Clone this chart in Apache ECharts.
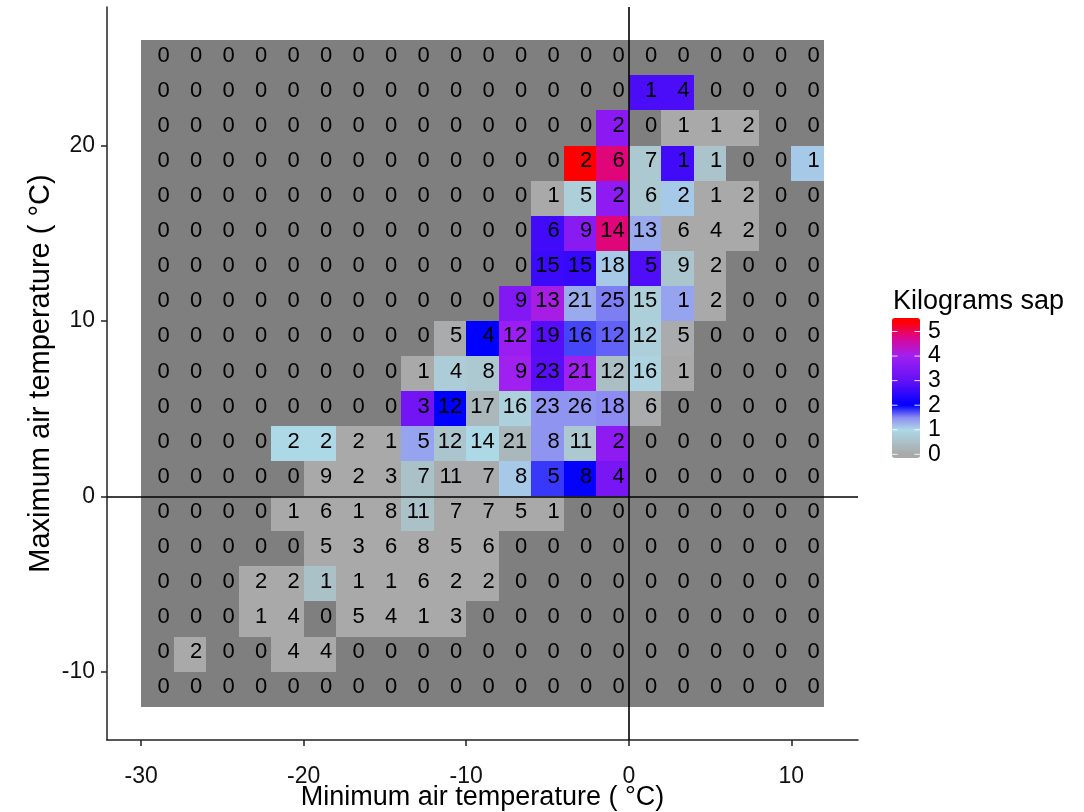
<!DOCTYPE html>
<html>
<head>
<meta charset="utf-8">
<script src="https://cdn.jsdelivr.net/npm/echarts@6/dist/echarts.min.js"></script>
<style>html,body{margin:0;padding:0;background:#fff}#chart{width:1084px;height:812px}</style>
</head>
<body>
<div id="chart"></div>
<script>
// ---- data ----
const xCenters = [-29,-27,-25,-23,-21,-19,-17,-15,-13,-11,-9,-7,-5,-3,-1,1,3,5,7,9,11];
const yCenters = [25,23,21,19,17,15,13,11,9,7,5,3,1,-1,-3,-5,-7,-9,-11];
const xTicks = [-30,-20,-10,0,10];
const yTicks = [-10,0,10,20];
const legendTicks = [0,1,2,3,4,5];
const xTitle = 'Minimum air temperature ( °C)';
const yTitle = 'Maximum air temperature ( °C)';
const legendTitle = 'Kilograms sap';

// number of observations per cell (rows top -> bottom, columns left -> right)
const countRows = [
  [0,0,0,0,0,0,0,0,0,0,0,0,0,0,0,0,0,0,0,0,0],
  [0,0,0,0,0,0,0,0,0,0,0,0,0,0,0,1,4,0,0,0,0],
  [0,0,0,0,0,0,0,0,0,0,0,0,0,0,2,0,1,1,2,0,0],
  [0,0,0,0,0,0,0,0,0,0,0,0,0,2,6,7,1,1,0,0,1],
  [0,0,0,0,0,0,0,0,0,0,0,0,1,5,2,6,2,1,2,0,0],
  [0,0,0,0,0,0,0,0,0,0,0,0,6,9,14,13,6,4,2,0,0],
  [0,0,0,0,0,0,0,0,0,0,0,0,15,15,18,5,9,2,0,0,0],
  [0,0,0,0,0,0,0,0,0,0,0,9,13,21,25,15,1,2,0,0,0],
  [0,0,0,0,0,0,0,0,0,5,4,12,19,16,12,12,5,0,0,0,0],
  [0,0,0,0,0,0,0,0,1,4,8,9,23,21,12,16,1,0,0,0,0],
  [0,0,0,0,0,0,0,0,3,12,17,16,23,26,18,6,0,0,0,0,0],
  [0,0,0,0,2,2,2,1,5,12,14,21,8,11,2,0,0,0,0,0,0],
  [0,0,0,0,0,9,2,3,7,11,7,8,5,8,4,0,0,0,0,0,0],
  [0,0,0,0,1,6,1,8,11,7,7,5,1,0,0,0,0,0,0,0,0],
  [0,0,0,0,0,5,3,6,8,5,6,0,0,0,0,0,0,0,0,0,0],
  [0,0,0,2,2,1,1,1,6,2,2,0,0,0,0,0,0,0,0,0,0],
  [0,0,0,1,4,0,5,4,1,3,0,0,0,0,0,0,0,0,0,0,0],
  [0,2,0,0,4,4,0,0,0,0,0,0,0,0,0,0,0,0,0,0,0],
  [0,0,0,0,0,0,0,0,0,0,0,0,0,0,0,0,0,0,0,0,0]
];

const _ = null;
// mean kilograms of sap per cell (null where there were no observations)
const sapRows = [
  [_,_,_,_,_,_,_,_,_,_,_,_,_,_,_,_,_,_,_,_,_],
  [_,_,_,_,_,_,_,_,_,_,_,_,_,_,_,2.75,2.75,_,_,_,_],
  [_,_,_,_,_,_,_,_,_,_,_,_,_,_,3.65,_,0,0,0,_,_],
  [_,_,_,_,_,_,_,_,_,_,_,_,_,5.4,4.85,0.65,2.65,0.55,_,_,1.1],
  [_,_,_,_,_,_,_,_,_,_,_,_,0,0.8,3.7,0.65,1.1,0,0,_,_],
  [_,_,_,_,_,_,_,_,_,_,_,_,2.65,3.6,4.85,1.3,0,0,0,_,_],
  [_,_,_,_,_,_,_,_,_,_,_,_,2.6,2.55,1.1,2.8,0.6,0,_,_,_],
  [_,_,_,_,_,_,_,_,_,_,_,3.5,4.1,1.3,1.55,0.8,1.35,0,_,_,_],
  [_,_,_,_,_,_,_,_,_,0.05,2.0,3.9,2.85,1.75,1.65,0.8,0.05,_,_,_,_],
  [_,_,_,_,_,_,_,_,0,0.75,0.65,4.0,2.9,4.0,0.45,0.9,0,_,_,_,_],
  [_,_,_,_,_,_,_,_,3.25,2.0,0.3,0.85,1.45,1.45,1.5,0.05,_,_,_,_,_],
  [_,_,_,_,1.0,1.0,0,0,1.35,0.6,1.0,0.3,1.45,0.65,3.7,_,_,_,_,_,_],
  [_,_,_,_,_,0,0,0,0.5,0.05,0.05,1.1,1.8,2.05,3.35,_,_,_,_,_,_],
  [_,_,_,_,0,0,0,0,0.5,0,0,0,0,_,_,_,_,_,_,_,_],
  [_,_,_,_,_,0,0,0,0,0,0,_,_,_,_,_,_,_,_,_,_],
  [_,_,_,0,0,0.5,0,0,0,0,0,_,_,_,_,_,_,_,_,_,_],
  [_,_,_,0,0,_,0,0,0,0,_,_,_,_,_,_,_,_,_,_,_],
  [_,0,_,_,0,0,_,_,_,_,_,_,_,_,_,_,_,_,_,_,_],
  [_,_,_,_,_,_,_,_,_,_,_,_,_,_,_,_,_,_,_,_,_]
];

// ---- styles ----
const FONT = "'Liberation Sans', Arial, sans-serif";
const colorStops = [[0,'#a9a9a9'],[1,'#add8e6'],[1.5,'#8c8cf2'],[2,'#0000ff'],[3,'#6410f6'],[4,'#a020f0'],[4.7,'#d8089a'],[5.4,'#ff0000']];
const EMPTY_FILL = '#7f7f7f';
const LABEL_FS = 22;
const VM_MIN = -0.15, VM_MAX = 5.55;
const LEG = { left: 892, top: 318, w: 28, h: 140 };

function hexToRgb(h){ return [parseInt(h.slice(1,3),16),parseInt(h.slice(3,5),16),parseInt(h.slice(5,7),16)]; }
function colorAt(v){
  if (v <= colorStops[0][0]) return colorStops[0][1];
  for (let i = 1; i < colorStops.length; i++){
    if (v <= colorStops[i][0]){
      const [v0,c0] = colorStops[i-1], [v1,c1] = colorStops[i];
      const t = (v - v0) / (v1 - v0);
      const a = hexToRgb(c0), b = hexToRgb(c1);
      const c = a.map((x,k) => Math.round(x + (b[k]-x)*t));
      return 'rgb(' + c.join(',') + ')';
    }
  }
  return colorStops[colorStops.length-1][1];
}
const gradient = [];
for (let i = 0; i <= 114; i++) gradient.push(colorAt(VM_MIN + (VM_MAX - VM_MIN) * i / 114));

// ---- build cells ----
const emptyCells = [], sapCells = [];
yCenters.forEach((y, r) => xCenters.forEach((x, c) => {
  const n = countRows[r][c];
  if (n === 0) emptyCells.push([x, y, n]);
  else sapCells.push([x, y, n, sapRows[r][c]]);
}));

function makeRender(fixedFill){
  return function(params, api){
    const x = api.value(0), y = api.value(1), n = api.value(2);
    const p0 = api.coord([x - 1, y + 1]);
    const p1 = api.coord([x + 1, y - 1]);
    const c = api.coord([x, y]);
    const x0 = Math.round(p0[0]), y0 = Math.round(p0[1]);
    const x1 = Math.round(p1[0]), y1 = Math.round(p1[1]);
    const fill = fixedFill || api.visual('color');
    return {
      type: 'group',
      children: [
        { type: 'rect', z2: 0,
          shape: { x: x0, y: y0, width: x1 - x0, height: y1 - y0 },
          style: { fill: fill } },
        { type: 'text', z2: 10, x: c[0] + LABEL_FS * 0.556, y: c[1] - 2,
          style: { text: String(n), align: 'right', verticalAlign: 'middle', fill: '#000',
                   fontSize: LABEL_FS, fontFamily: FONT } }
      ]
    };
  };
}

function legendY(v){ return LEG.top + (VM_MAX - v) / (VM_MAX - VM_MIN) * LEG.h; }
const legendGraphics = [
  { type: 'text', x: 893, y: 302, style: { text: legendTitle, fontSize: 27, fontFamily: FONT, fill: '#000', verticalAlign: 'middle' } }
];
legendTicks.forEach(v => {
  const y = legendY(v);
  legendGraphics.push({ type: 'text', x: 928, y: y, style: { text: String(v), fontSize: 23, fontFamily: FONT, fill: '#000', verticalAlign: 'middle' } });
  legendGraphics.push({ type: 'line', z: 100, shape: { x1: LEG.left, y1: y, x2: LEG.left + 5.6, y2: y }, style: { stroke: 'rgba(255,255,255,0.85)', lineWidth: 1 } });
  legendGraphics.push({ type: 'line', z: 100, shape: { x1: LEG.left + LEG.w - 5.6, y1: y, x2: LEG.left + LEG.w, y2: y }, style: { stroke: 'rgba(255,255,255,0.85)', lineWidth: 1 } });
});

const axisCommon = {
  type: 'value',
  splitLine: { show: false },
  axisLine: { show: true, onZero: false, lineStyle: { color: '#222', width: 1.5 } },
  nameLocation: 'middle',
  nameMoveOverlap: false,
  nameTextStyle: { color: '#000', fontFamily: FONT }
};

const option = {
  animation: false,
  backgroundColor: '#ffffff',
  grid: { left: 107, right: 226, top: 7, bottom: 72, containLabel: false, outerBoundsMode: 'none' },
  xAxis: Object.assign({}, axisCommon, {
    min: -32.1, max: 14.1,
    axisTick: { show: true, customValues: xTicks, length: 6, lineStyle: { color: '#222', width: 1.5 } },
    axisLabel: { customValues: xTicks, fontSize: 23, color: '#111', fontFamily: FONT, margin: 25 },
    name: xTitle, nameGap: 44,
    nameTextStyle: { color: '#000', fontFamily: FONT, fontSize: 27 }
  }),
  yAxis: Object.assign({}, axisCommon, {
    min: -13.9, max: 27.9,
    axisTick: { show: true, customValues: yTicks, length: 6, lineStyle: { color: '#222', width: 1.5 } },
    axisLabel: { customValues: yTicks, fontSize: 23, color: '#111', fontFamily: FONT, margin: 12 },
    name: yTitle, nameGap: 52,
    nameTextStyle: { color: '#000', fontFamily: FONT, fontSize: 29 }
  }),
  visualMap: {
    type: 'continuous', min: VM_MIN, max: VM_MAX, seriesIndex: 1, dimension: 3,
    inRange: { color: gradient }, orient: 'vertical',
    left: LEG.left, top: LEG.top, itemWidth: LEG.w, itemHeight: LEG.h, padding: 0,
    calculable: false, hoverLink: false
  },
  graphic: legendGraphics,
  series: [
    { type: 'custom', data: emptyCells, renderItem: makeRender(EMPTY_FILL), silent: true },
    { type: 'custom', data: sapCells, renderItem: makeRender(null), silent: true },
    { type: 'line', data: [], silent: true, z: 5,
      markLine: { silent: true, symbol: ['none','none'], label: { show: false },
        lineStyle: { color: '#000', width: 1.6, type: 'solid' }, animation: false,
        data: [{ xAxis: 0 }, { yAxis: 0 }] } }
  ]
};

const chart = echarts.init(document.getElementById('chart'), null, { renderer: 'canvas' });
chart.setOption(option);
</script>
</body>
</html>
